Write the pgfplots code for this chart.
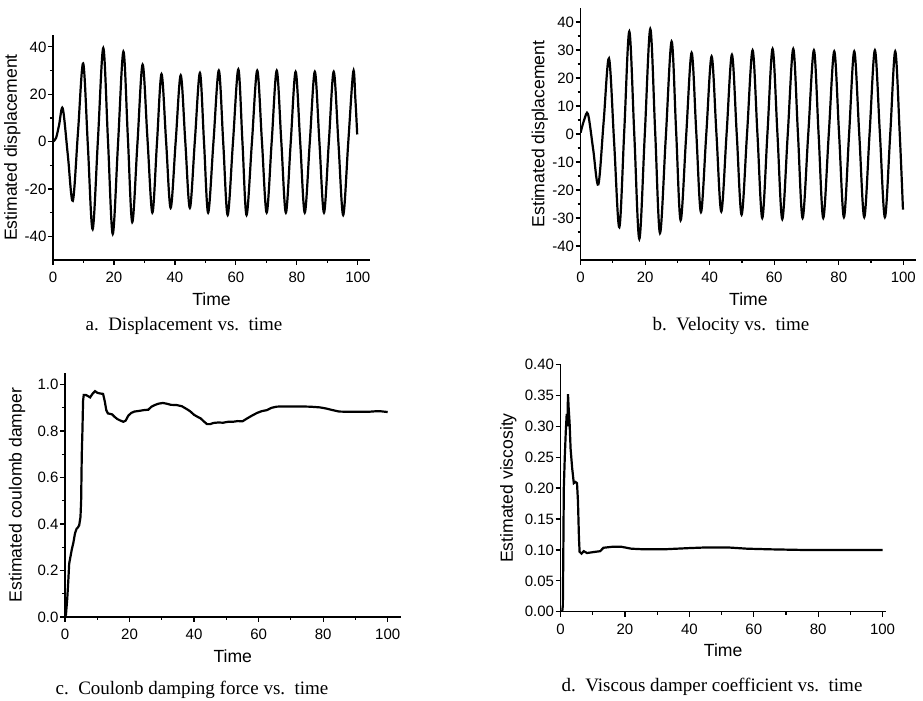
\documentclass[border=0pt]{standalone}
\usepackage{fontspec}
\setmainfont{Liberation Sans}
\newfontfamily\capfont{Liberation Serif}
\usepackage{pgfplots}
\pgfplotsset{compat=1.18}
\pgfplotsset{
  myax/.style={
    scale only axis,
    anchor=south west,
    axis x line*=bottom, axis y line*=left,
    axis line style={line width=0.7pt,-},
    tick align=outside,
    major tick length=2.5pt, minor tick length=1.5pt,
    every tick/.style={line width=0.6pt,black},
    xmin=0, xtick={0,20,40,60,80,100}, minor x tick num=1,
    minor y tick num=1,
    tick label style={font=\fontsize{7.5}{8}\selectfont},
    yticklabel style={inner sep=0.6pt},
    label style={font=\fontsize{8.8}{10}\selectfont},
    xlabel={Time},
    xlabel shift=-2pt,
    ylabel shift=-2pt,
    /pgf/number format/assume math mode=true,
  },
  myline/.style={black, line width=1.1pt, mark=none}
}
\begin{document}
\begin{tikzpicture}
\useasboundingbox (0,0) rectangle (461.5pt,350.5pt);
% a
\begin{axis}[myax, at={(26.5pt,220.5pt)}, width=158.5pt, height=112.5pt,
  xmax=104, ymin=-50, ymax=45, ytick={-40,-20,0,20,40},
  ylabel={Estimated displacement}]
\addplot[myline, smooth, tension=0.55] coordinates {
(0,0) (1.0,1.5) (2.0,7) (3.2,14) (4.85,-5.5) (6.5,-25) (8.2,4) (9.9,33) (11.45,-2) (13.0,-37) (14.75,1) (16.5,39.5) (18.05,0) (19.6,-39) (21.35,-0.5) (23.1,38) (24.55,2) (26.0,-34) (27.7,-0.8) (29.4,32.5) (31.0,1) (32.6,-30) (34.1,-0.8) (35.6,28.5) (37.1,0.2) (38.6,-28) (40.25,0) (41.9,28) (43.4,0) (44.9,-28) (46.55,0.5) (48.2,29) (49.55,-0.5) (50.9,-30) (52.65,0) (54.4,30) (55.85,-0.5) (57.3,-31) (59.05,-0.2) (60.8,30.5) (62.15,-0.2) (63.5,-31) (65.25,-0.5) (67.0,30) (68.55,0) (70.1,-30) (71.75,0) (73.4,30) (74.9,0) (76.4,-30) (78.0,-0.2) (79.6,29.5) (81.1,-0.2) (82.6,-30) (84.25,-0.2) (85.9,29.5) (87.4,-0.2) (88.9,-30) (90.5,-0.2) (92.1,29.5) (93.65,-0.7) (95.2,-31) (96.85,-0.7) (98.5,29.5) (99.2,18) (99.8,3)
};
\end{axis}
% b
\begin{axis}[myax, at={(290.3pt,220.5pt)}, width=167.8pt, height=126pt,
  xmax=104, ymin=-45, ymax=45, ytick={-40,-30,-20,-10,0,10,20,30,40},
  ylabel={Estimated displacement}]
\addplot[myline, smooth, tension=0.55] coordinates {
(0,0.5) (1.1,5) (2.3,7.1) (3.9,-5.5) (5.5,-18) (7.15,4.5) (8.8,27) (10.4,-3.2) (12.0,-33.3) (13.55,1.6) (15.1,36.6) (16.65,-0.5) (18.2,-37.5) (19.9,0) (21.6,37.5) (23.1,1) (24.6,-35.4) (26.4,-1.2) (28.2,33) (29.6,1.1) (31.0,-30.8) (32.7,-0.9) (34.4,29) (35.85,0.5) (37.3,-27.9) (38.95,0) (40.6,27.7) (42.1,0) (43.6,-27.7) (45.25,0.3) (46.9,28.3) (48.4,-0.3) (49.9,-28.8) (51.6,0.5) (53.3,29.9) (54.8,0) (56.3,-30) (57.9,0.2) (59.5,30.4) (61.0,0) (62.5,-30.4) (64.2,0) (65.9,30.4) (67.35,0.2) (68.8,-30) (70.55,0) (72.3,29.9) (73.75,0) (75.2,-30) (76.9,-0.2) (78.6,29.5) (80.1,0) (81.6,-29.7) (83.2,-0.1) (84.8,29.5) (86.35,0) (87.9,-29.7) (89.55,0.1) (91.2,29.9) (92.75,0.1) (94.3,-29.7) (95.95,-0.1) (97.5,29.5) (98.9,0) (99.9,-27)
};
\end{axis}
% c
\begin{axis}[myax, at={(32.5pt,42pt)}, width=167.8pt, height=122pt,
  xmax=104, ymin=0, ymax=1.05, ytick={0,0.2,0.4,0.6,0.8,1.0},
  yticklabel style={/pgf/number format/.cd,fixed,fixed zerofill,precision=1},
  ylabel shift=2pt,
  ylabel={Estimated coulomb damper}]
\addplot[myline] coordinates {
(0,0) (0.3,0.01) (0.7,0.08) (1.0,0.15) (1.3,0.23) (1.7,0.26) (2.1,0.29) (2.6,0.32) (3.1,0.36) (3.6,0.38) (4.0,0.385) (4.4,0.395) (4.8,0.43) (5.0,0.5) (5.2,0.7) (5.4,0.8) (5.6,0.93) (5.8,0.955) (6.5,0.955) (7.2,0.95) (7.8,0.945) (8.5,0.96) (9.3,0.972) (10.0,0.965) (10.8,0.962) (11.8,0.96) (12.3,0.93) (12.8,0.89) (13.3,0.876) (14.0,0.874) (14.6,0.872) (15.3,0.862) (16.2,0.852) (17.2,0.845) (18.1,0.84) (18.8,0.845) (19.6,0.866) (20.5,0.878) (21.5,0.884) (23.0,0.887) (24.3,0.89) (25.8,0.892) (26.8,0.905) (27.8,0.912) (29.0,0.918) (30.3,0.921) (31.5,0.918) (32.8,0.913) (34.6,0.912) (36.2,0.907) (37.7,0.895) (38.8,0.885) (40.0,0.87) (41.0,0.862) (42.0,0.855) (43.0,0.842) (44.0,0.83) (45.0,0.83) (46.0,0.835) (47.5,0.837) (49.0,0.836) (50.5,0.84) (52.0,0.84) (53.5,0.843) (55.0,0.842) (56.5,0.855) (58.0,0.867) (59.5,0.878) (61.0,0.886) (62.5,0.89) (64.0,0.9) (65.5,0.905) (67.0,0.906) (70.0,0.906) (73.0,0.906) (76.0,0.905) (79.0,0.902) (81.0,0.897) (83.0,0.89) (85.0,0.884) (88.0,0.883) (91.0,0.883) (94.0,0.883) (96.0,0.885) (98.0,0.885) (100,0.882)
};
\end{axis}
% d
\begin{axis}[myax, at={(280.3pt,44.6pt)}, width=162.6pt, height=123.7pt,
  xmax=101, ymin=0, ymax=0.4, ytick={0,0.05,0.1,0.15,0.2,0.25,0.3,0.35,0.4},
  minor y tick num=0,
  yticklabel style={/pgf/number format/.cd,fixed,fixed zerofill,precision=2},
  ylabel shift=0pt,
  ylabel={Estimated viscosity}]
\addplot[myline] coordinates {
(0,0) (0.5,0) (0.7,0.01) (0.85,0.1) (1.0,0.2) (1.3,0.25) (1.6,0.29) (1.9,0.32) (2.1,0.3) (2.3,0.352) (2.5,0.33) (2.8,0.305) (3.1,0.264) (3.6,0.232) (4.1,0.208) (4.6,0.21) (5.1,0.208) (5.4,0.178) (5.7,0.12) (5.9,0.097) (6.5,0.094) (7.2,0.098) (8.2,0.095) (9.5,0.096) (10.8,0.097) (12.3,0.098) (13.3,0.1035) (15.9,0.105) (19,0.105) (22,0.102) (26,0.101) (32,0.101) (40,0.103) (45,0.104) (52,0.104) (58,0.102) (65,0.101) (75,0.1) (85,0.1) (95,0.1) (100,0.1)
};
\end{axis}
% captions
\node[font=\capfont\fontsize{9.5}{11}\selectfont, inner sep=0pt] at (92pt,187.5pt) {a.\ \ Displacement vs.\ \ time};
\node[font=\capfont\fontsize{9.5}{11}\selectfont, inner sep=0pt] at (365.5pt,187.5pt) {b.\ \ Velocity vs.\ \ time};
\node[font=\capfont\fontsize{9.5}{11}\selectfont, inner sep=0pt] at (96pt,5.5pt) {c.\ \ Coulonb damping force vs.\ \ time};
\node[font=\capfont\fontsize{9.5}{11}\selectfont, inner sep=0pt] at (356pt,7pt) {d.\ \ Viscous damper coefficient vs.\ \ time};
\end{tikzpicture}
\end{document}
